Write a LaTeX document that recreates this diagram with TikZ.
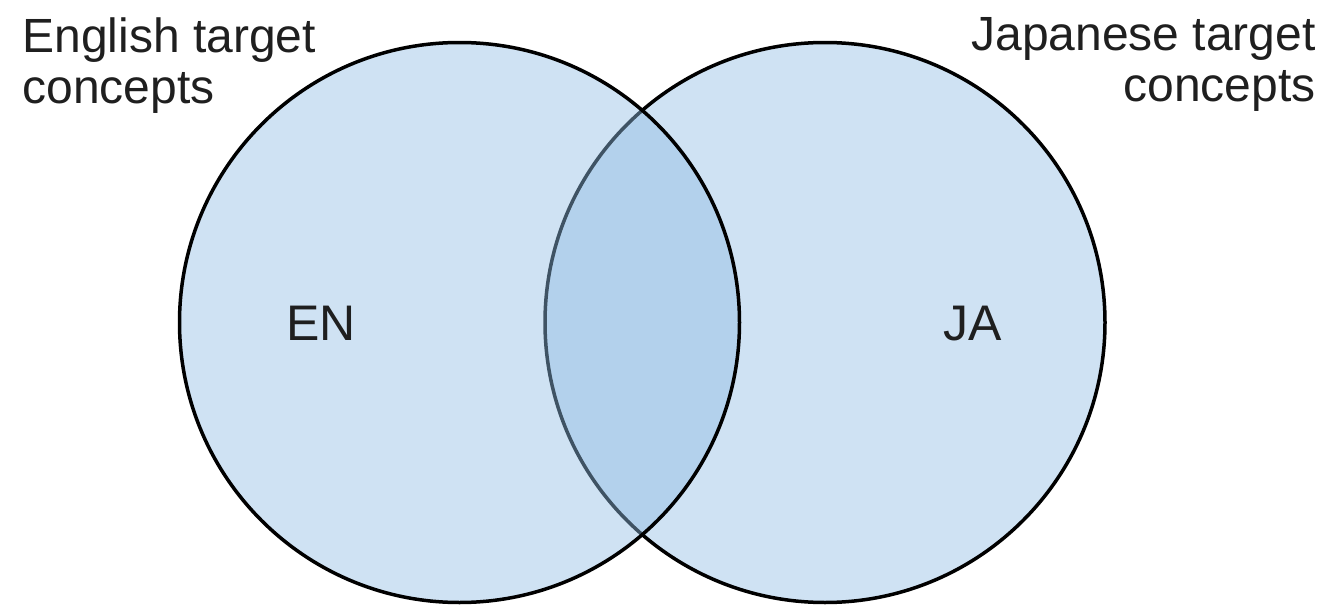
\documentclass[tikz,border=0pt]{standalone}
\usepackage{fontspec}
\setmainfont{Liberation Sans}
\usepackage{tikz}
\definecolor{vnBlue}{HTML}{CFE2F3}
\definecolor{vnDeep}{RGB}{145,189,228}
\definecolor{vnInk}{HTML}{1F1F1F}

\begin{document}
\begin{tikzpicture}[
  x=0.5pt, y=-0.5pt,
  langset/.style={
    circle,
    draw=black,
    line width=1.75pt,
    minimum size=280pt,
    inner sep=0pt
  },
  caption/.style={
    text=vnInk,
    inner sep=0pt,
    font=\fontsize{24}{25.5}\selectfont
  },
  tag/.style={text=vnInk, inner sep=0pt, font=\fontsize{25}{27}\selectfont}
]
  \useasboundingbox (0,0) rectangle (1330,605);

  % right set first, the left one lies over it
  \node[langset, fill=vnBlue] (jaSet) at (825,322.5) {};
  \node[langset, fill=vnDeep, fill opacity=0.44] (enSet) at (459.5,322.5) {};

  \node[tag] (en) at (321,323.5) {EN};
  \node[tag] (ja) at (972.5,323.5) {JA};

  \node[caption, anchor=north west, align=left] (enCap) at (22,17)
    {English target\\concepts};
  \node[caption, anchor=north east, align=right] (jaCap) at (1316,17)
    {Japanese target\\concepts};
\end{tikzpicture}
\end{document}
